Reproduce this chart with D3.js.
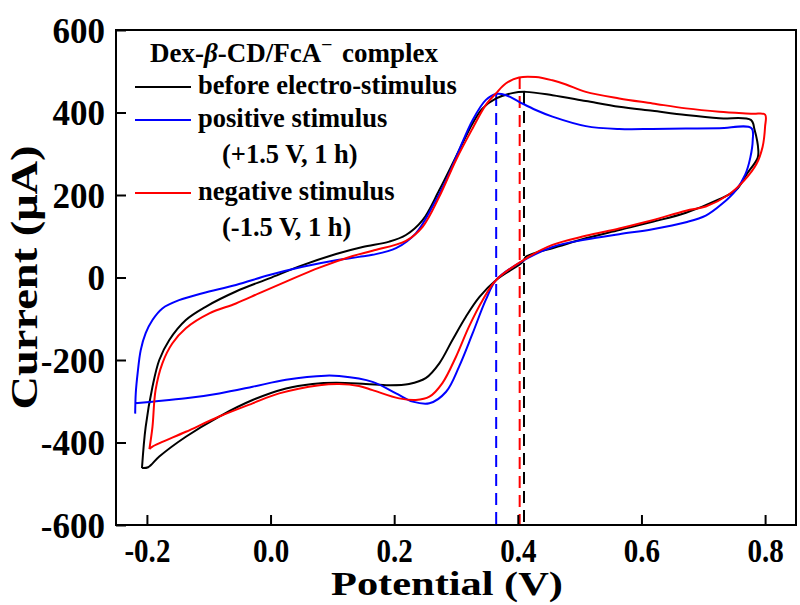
<!DOCTYPE html>
<html>
<head>
<meta charset="utf-8">
<script src="https://cdn.jsdelivr.net/npm/d3@7"></script>
<style>
  body { margin: 0; background: #fff; }
  text { font-family: "Liberation Serif", "Times New Roman", serif; font-weight: bold; fill: #000; }
</style>
</head>
<body>
<div id="chart"></div>
<script>
// CV curves, [potential V, current uA], forward scan then reverse
var beforeCurve = [
  [-0.208,-462],[-0.202,-362],[-0.191,-265],[-0.180,-200],[-0.164,-152],[-0.137,-103],[-0.105,-71],
  [-0.056,-34],[-0.002,-2],[0.052,30],[0.106,57],[0.149,74],[0.192,87],[0.219,103],[0.246,139],
  [0.273,212],[0.300,293],[0.327,374],[0.343,410],[0.365,434],[0.391,447],[0.413,450],[0.456,442],
  [0.510,428],[0.564,414],[0.618,404],[0.672,394],[0.726,386],[0.777,382],[0.783,358],[0.789,309],
  [0.788,290],[0.770,250],[0.753,212],[0.726,190],[0.672,157],[0.618,135],[0.564,115],[0.510,95],
  [0.456,71],[0.435,63],[0.413,50],[0.408,38],[0.365,-6],[0.338,-47],[0.316,-95],[0.294,-152],
  [0.273,-208],[0.251,-244],[0.224,-258],[0.192,-261],[0.154,-258],[0.106,-255],[0.068,-258],
  [0.025,-269],[-0.029,-297],[-0.083,-337],[-0.137,-386],[-0.180,-434],[-0.198,-460],[-0.208,-462]
];
var positiveCurve = [
  [-0.219,-330],[-0.218,-280],[-0.215,-232],[-0.210,-176],[-0.202,-135],[-0.191,-103],[-0.175,-75],
  [-0.148,-55],[-0.110,-38],[-0.056,-18],[-0.002,6],[0.052,26],[0.106,42],[0.143,50],[0.165,55],
  [0.203,71],[0.235,107],[0.262,172],[0.284,236],[0.305,309],[0.327,382],[0.348,430],[0.365,445],
  [0.381,442],[0.402,426],[0.429,406],[0.456,390],[0.510,367],[0.564,360],[0.618,360],[0.672,361],
  [0.726,362],[0.778,362],[0.780,333],[0.776,290],[0.768,250],[0.753,212],[0.730,178],[0.704,150],
  [0.672,134],[0.618,117],[0.564,105],[0.510,92],[0.456,74],[0.402,35],[0.365,-6],[0.348,-55],
  [0.327,-135],[0.305,-216],[0.284,-277],[0.257,-305],[0.230,-301],[0.203,-281],[0.165,-253],
  [0.111,-239],[0.089,-238],[0.025,-248],[-0.029,-265],[-0.083,-281],[-0.137,-293],[-0.191,-301],
  [-0.219,-305]
];
var negativeCurve = [
  [-0.196,-416],[-0.191,-362],[-0.186,-273],[-0.175,-208],[-0.159,-160],[-0.137,-123],[-0.099,-87],
  [-0.056,-63],[-0.018,-38],[0.025,-10],[0.079,24],[0.133,52],[0.165,65],[0.219,89],[0.246,123],
  [0.273,196],[0.300,285],[0.327,362],[0.348,418],[0.365,447],[0.381,471],[0.402,485],[0.429,486],
  [0.456,478],[0.478,468],[0.510,450],[0.564,434],[0.618,422],[0.672,410],[0.726,402],[0.780,397],
  [0.800,395],[0.800,366],[0.796,317],[0.786,275],[0.766,235],[0.740,200],[0.704,172],[0.672,162],
  [0.618,139],[0.564,119],[0.510,101],[0.456,79],[0.413,46],[0.365,-6],[0.343,-55],[0.321,-119],
  [0.300,-192],[0.278,-256],[0.257,-289],[0.235,-297],[0.208,-293],[0.165,-273],[0.143,-263],
  [0.111,-258],[0.079,-261],[0.014,-281],[-0.029,-305],[-0.083,-337],[-0.137,-374],[-0.191,-410],
  [-0.196,-416]
];

var seriesNames = ["before electro-stimulus", "positive stimulus", "negative stimulus"];
var seriesColors = ["#000000", "#0000ff", "#ff0000"];
var seriesNotes = ["", "(+1.5 V, 1 h)", "(-1.5 V, 1 h)"];

// oxidation peak markers (dashed drop lines)
var peakV = [0.410, 0.365, 0.403];
var peakI = [450, 445, 486];

var xTicks = [-0.2, 0.0, 0.2, 0.4, 0.6, 0.8];
var yTicks = [-600, -400, -200, 0, 200, 400, 600];

var width = 800, height = 605;
var margin = {left: 116, top: 30, right: 4, bottom: 80};

var svg = d3.select("#chart").append("svg")
    .attr("width", width)
    .attr("height", height);

var x = d3.scaleLinear().domain([-0.25, 0.85]).range([margin.left, width - margin.right]);
var y = d3.scaleLinear().domain([-600, 600]).range([height - margin.bottom, margin.top]);

var curves = [beforeCurve, positiveCurve, negativeCurve];

var line = d3.line()
    .x(function (d) { return x(d[0]) })
    .y(function (d) { return y(d[1]) })
    .curve(d3.curveCatmullRom.alpha(0.5));

// dashed peak lines
svg.selectAll(".peak")
    .data(peakV)
    .enter().append("line")
    .attr("x1", function (d) { return x(d) })
    .attr("x2", function (d) { return x(d) })
    .attr("y1", function (d, i) { return y(peakI[i]) })
    .attr("y2", y(-600))
    .attr("stroke", function (d, i) { return seriesColors[i] })
    .attr("stroke-width", 2)
    .attr("stroke-dasharray", "12,7");

svg.selectAll(".cv")
    .data(curves)
    .enter().append("path")
    .attr("d", line)
    .attr("fill", "none")
    .attr("stroke", function (d, i) { return seriesColors[i] })
    .attr("stroke-width", 2);

// AXES
var xAxis = svg.append("g").attr("transform", "translate(0," + y(-600) + ")");
xAxis.call(d3.axisBottom(x).tickValues(d3.range(-0.2, 0.85, 0.1)).tickSize(-5).tickFormat(""));
xAxis.call(d3.axisBottom(x).tickValues(xTicks).tickSize(-10)
    .tickFormat(function (d) { return d.toFixed(1) }));

var yAxis = svg.append("g").attr("transform", "translate(" + x(-0.25) + ",0)");
yAxis.call(d3.axisLeft(y).tickValues(d3.range(-500, 600, 100)).tickSize(-5).tickFormat(""));
yAxis.call(d3.axisLeft(y).tickValues(yTicks).tickSize(-10)
    .tickFormat(function (d) { return String(d) }));

svg.selectAll(".tick line").attr("stroke", "#000").attr("stroke-width", 2);
svg.selectAll(".domain").remove();
svg.selectAll(".tick text").attr("fill", "#000").attr("font-family", null).attr("font-size", null);
xAxis.selectAll("text").attr("dy", null).attr("y", 37)
    .attr("transform", "scale(0.88,1)")
    .style("font-size", "33px");
yAxis.selectAll("text").attr("dy", "0.35em").attr("x", -11).style("font-size", "35px");

// frame
svg.append("rect")
    .attr("x", x(-0.25))
    .attr("y", y(600))
    .attr("width", x(0.85) - x(-0.25))
    .attr("height", y(-600) - y(600))
    .attr("fill", "none")
    .attr("stroke", "#000")
    .attr("stroke-width", 2);

// axis titles
svg.append("text")
    .attr("x", 447)
    .attr("y", 595)
    .attr("text-anchor", "middle")
    .attr("textLength", 232)
    .attr("lengthAdjust", "spacingAndGlyphs")
    .style("font-size", "33px")
    .text("Potential (V)");

svg.append("text")
    .attr("transform", "translate(37," + y(0) + ") rotate(-90)")
    .attr("text-anchor", "middle")
    .attr("textLength", 264)
    .attr("lengthAdjust", "spacingAndGlyphs")
    .style("font-size", "37px")
    .text("Current (\u03bcA)");

// LEGEND
var title = svg.append("text")
    .attr("x", 150)
    .attr("y", 62)
    .style("font-size", "27px");
title.append("tspan").text("Dex-");
title.append("tspan").style("font-style", "italic").text("\u03b2");
title.append("tspan").text("-CD/FcA");
title.append("tspan").attr("dx", 1).attr("dy", -4).style("font-size", "18px").text("\u00af");
title.append("tspan").attr("dx", 4).attr("dy", 4).text(" complex");

var legendY = [87, 120, 193];
var legend = svg.selectAll(".legend")
    .data(seriesNames)
    .enter().append("g");

legend.append("line")
    .attr("x1", 135).attr("x2", 191)
    .attr("y1", function (d, i) { return legendY[i] })
    .attr("y2", function (d, i) { return legendY[i] })
    .attr("stroke", function (d, i) { return seriesColors[i] })
    .attr("stroke-width", 2);

legend.append("text")
    .attr("x", 198)
    .attr("y", function (d, i) { return legendY[i] + 7 })
    .style("font-size", "26.5px")
    .text(function (d) { return d });

legend.append("text")
    .attr("x", 222)
    .attr("y", function (d, i) { return legendY[i] + 43 })
    .style("font-size", "26.5px")
    .text(function (d, i) { return seriesNotes[i] });
</script>
</body>
</html>
